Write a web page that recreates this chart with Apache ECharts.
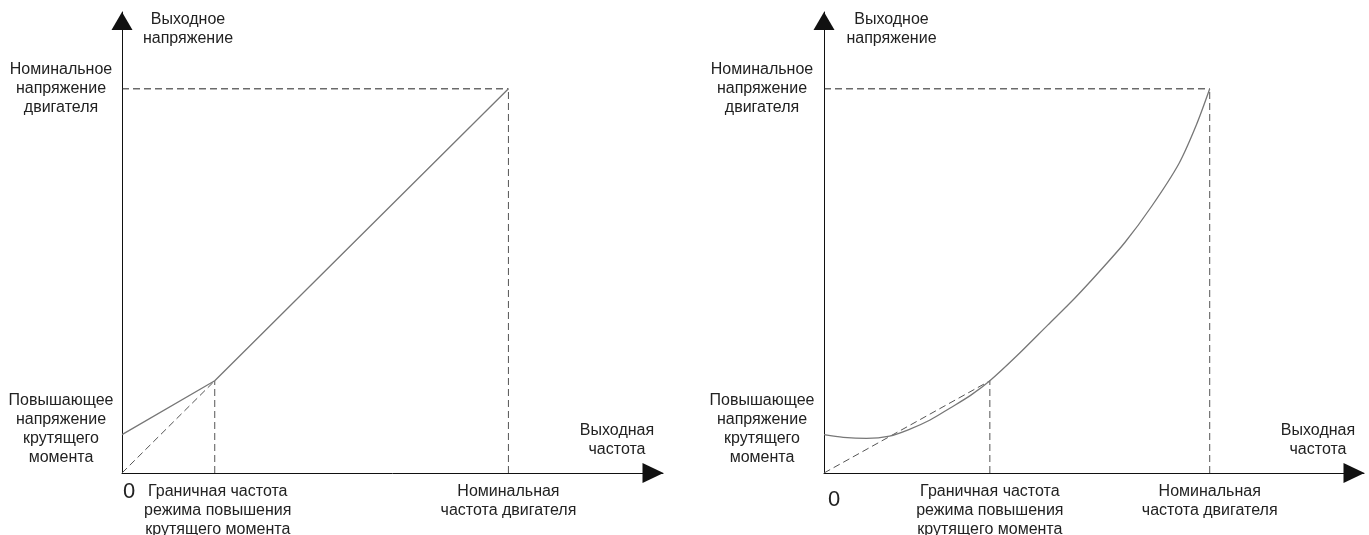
<!DOCTYPE html>
<html>
<head>
<meta charset="utf-8">
<title>U/f характеристики</title>
<script src="https://cdn.jsdelivr.net/npm/echarts@6/dist/echarts.min.js"></script>
<style>
  html, body { margin: 0; padding: 0; background: #fff; }
  #chart { width: 1369px; height: 535px; }
</style>
</head>
<body>
<div id="chart"></div>
<script>
/* U/f: линейная и квадратичная характеристики */

// оси (условные единицы: % от номинала)
const freqMax = 140;
const voltMax = 120;
const nominalFreq = 100;
const nominalVolt = 100;
const boostVolt = 10;

// левый график — линейная кривая с повышением момента
const linBoostFreq = 24;
const linBoostVolt = 24;
const linFreq = [0, 24, 100];
const linVolt = [10, 24, 100];

// правый график — квадратичная кривая
const sqBoostFreq = 43;
const sqBoostVolt = 24;
const sqFreq = [0, 5, 11, 17, 22, 27.5, 32.5, 38, 43, 50, 58, 65, 71, 78, 85, 92, 96.5, 100];
const sqVolt = [10, 9.3, 9.0, 9.6, 11.3, 13.8, 16.8, 20.2, 24, 30.5, 38.5, 45.5, 52, 60, 69.5, 80.5, 90.5, 100];

// подписи
const yName = 'Выходное\nнапряжение';
const xName = 'Выходная\nчастота';
const yTickNominal = ['Номинальное', 'напряжение', 'двигателя'];
const yTickBoost = ['Повышающее', 'напряжение', 'крутящего', 'момента'];
const xTickBoost = ['Граничная частота', 'режима повышения', 'крутящего момента'];
const xTickNominal = ['Номинальная', 'частота двигателя'];
const zeroLabel = '0';

const FONT = "'Liberation Sans', Arial, sans-serif";
const TXT = '#222';
const FS = 16;

const zip = (xs, ys) => xs.map((x, i) => [x, ys[i]]);

function makeX(idx, boostFreq, zeroPad, zeroLH, boostShift) {
  return {
    type: 'value', gridIndex: idx, min: 0, max: freqMax,
    axisLine: {
      show: true, onZero: false,
      symbol: ['none', 'triangle'], symbolSize: [20, 21], symbolOffset: [0, -10],
      lineStyle: { color: '#111', width: 1 }
    },
    axisTick: { show: false },
    splitLine: { show: false },
    axisLabel: {
      customValues: [0, boostFreq, nominalFreq],
      hideOverlap: false, showMinLabel: true, showMaxLabel: true,
      margin: 9,
      color: TXT, fontFamily: FONT, fontSize: FS, lineHeight: 19,
      formatter: v => {
        if (v === 0) return '{z|' + zeroLabel + '}';
        if (v === boostFreq) return xTickBoost.map(s => '{b|' + s + '}').join('\n');
        return xTickNominal.join('\n');
      },
      rich: {
        z: { fontSize: 22, fontFamily: FONT, color: TXT, lineHeight: zeroLH, padding: zeroPad },
        b: { fontSize: FS, fontFamily: FONT, color: TXT, lineHeight: 19, padding: [0, 0, 0, boostShift] }
      }
    },
    name: xName, nameLocation: 'end', nameGap: -46,
    nameTextStyle: {
      align: 'center', verticalAlign: 'bottom', padding: [0, 0, 14, 0],
      color: TXT, fontFamily: FONT, fontSize: FS, lineHeight: 19
    }
  };
}

function makeY(idx, labelMargin, nameShift) {
  return {
    type: 'value', gridIndex: idx, min: 0, max: voltMax,
    axisLine: {
      show: true, onZero: false,
      symbol: ['none', 'triangle'], symbolSize: [21, 18], symbolOffset: [0, -9],
      lineStyle: { color: '#111', width: 1 }
    },
    axisTick: { show: false },
    splitLine: { show: false },
    axisLabel: {
      customValues: [boostVolt, nominalVolt],
      hideOverlap: false,
      align: 'center', margin: labelMargin,
      color: TXT, fontFamily: FONT, fontSize: FS, lineHeight: 19,
      formatter: v => {
        if (v === boostVolt) return yTickBoost.map(s => '{a|' + s + '}').join('\n') + '\n{g| }';
        return yTickNominal.join('\n');
      },
      rich: {
        a: { fontSize: FS, fontFamily: FONT, color: TXT, lineHeight: 19 },
        g: { fontSize: 8, lineHeight: 10 }
      }
    },
    name: yName, nameLocation: 'end', nameGap: 2,
    nameTextStyle: {
      align: 'center', verticalAlign: 'top', padding: [0, 0, 0, nameShift],
      color: TXT, fontFamily: FONT, fontSize: FS, lineHeight: 19
    }
  };
}

function dashed(idx, data, color) {
  return {
    type: 'line', xAxisIndex: idx, yAxisIndex: idx, data: data,
    symbol: 'none', silent: true,
    lineStyle: { color: color, width: 1, type: [7, 4] }
  };
}

function guides(idx, bf, bv) {
  return [
    dashed(idx, [[0, 0], [bf, bv]], '#555'),
    dashed(idx, [[bf, 0], [bf, bv]], '#555'),
    dashed(idx, [[nominalFreq, 0], [nominalFreq, nominalVolt]], '#555'),
    dashed(idx, [[0, nominalVolt], [nominalFreq, nominalVolt]], '#222')
  ];
}

const chart = echarts.init(document.getElementById('chart'));
chart.setOption({
  animation: false,
  backgroundColor: '#fff',
  grid: [
    { left: 122, top: 12, width: 541, height: 461, outerBoundsMode: 'none' },
    { left: 824, top: 12, width: 540, height: 461, outerBoundsMode: 'none' }
  ],
  xAxis: [
    makeX(0, linBoostFreq, [0, 0, 0, 14], 20, 6),
    makeX(1, sqBoostFreq, [0, 0, 0, 20], 36, 0)
  ],
  yAxis: [makeY(0, 61, 132), makeY(1, 62, 135)],
  series: [
    ...guides(0, linBoostFreq, linBoostVolt),
    {
      type: 'line', xAxisIndex: 0, yAxisIndex: 0, data: zip(linFreq, linVolt),
      symbol: 'none', lineStyle: { color: '#777', width: 1.3 }
    },
    ...guides(1, sqBoostFreq, sqBoostVolt),
    {
      type: 'line', xAxisIndex: 1, yAxisIndex: 1, data: zip(sqFreq, sqVolt),
      symbol: 'none', smooth: 0.3,
      lineStyle: { color: '#777', width: 1.3 }
    }
  ]
});

window.addEventListener('resize', () => chart.resize());
</script>
</body>
</html>
